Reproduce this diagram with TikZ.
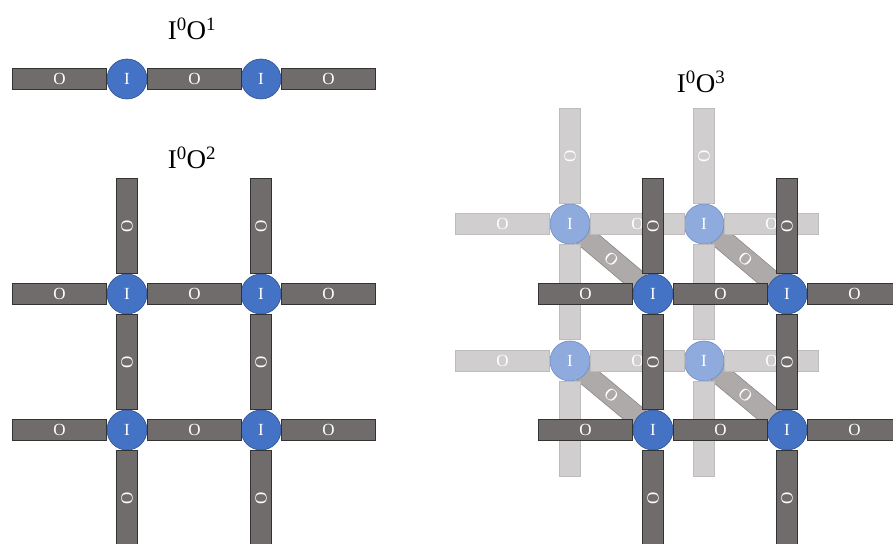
\documentclass[tikz,border=0pt]{standalone}
\usepackage{fontspec}
\setmainfont{Liberation Serif}
\usetikzlibrary{positioning, backgrounds}

\definecolor{rodgray}{HTML}{706C6B}
\definecolor{ionblue}{HTML}{4472C4}
\definecolor{ionedge}{HTML}{2F528F}
\definecolor{paleblue}{HTML}{8FAADC}
\definecolor{paleedge}{HTML}{6E8BC2}
\definecolor{palegray}{HTML}{D0CECE}
\definecolor{paleline}{HTML}{BDBBBB}
\definecolor{midgray}{HTML}{AEAAAA}
\definecolor{midline}{HTML}{8C8888}

\newcommand{\vO}{\rotatebox{90}{O}}

\begin{document}
\begin{tikzpicture}[
        x = 1pt, y = 1pt,
        node distance = 0pt and 0pt,
        kule/.style = {circle, draw=ionedge, fill=ionblue, line width=0.6pt, minimum size=40pt, inner sep=0pt, text=white},
        blekkule/.style = {kule, draw=paleedge, fill=paleblue},
        stav/.style = {rectangle, draw=black!80, fill=rodgray, line width=0.6pt, minimum width=94pt, minimum height=21pt, inner sep=0pt, text=white},
        vstav/.style = {stav, minimum width=21pt, minimum height=95pt},
        blek/.style = {draw=paleline, fill=palegray},
        skraa/.style = {stav, draw=midline, fill=midgray, minimum width=80pt, sloped},
        titel/.style = {font=\fontsize{27}{30}\selectfont},
        font = \fontsize{17}{17}\selectfont
        ]
        \useasboundingbox (0,0) rectangle (893,543);
        \clip (0,0) rectangle (893,543);

        % I0O1
        \node[titel] (t1) at (192,514) {I\textsuperscript{0}O\textsuperscript{1}};
        \node[kule] (a1) at (127,464) {I};
        \node[kule] (a2) at (261,464) {I};
        \node[stav, left=of a1] (a1w) {O};
        \node[stav, right=of a1] (a12) {O};
        \node[stav, right=of a2] (a2e) {O};

        % I0O2
        \node[titel] (t2) at (192,385) {I\textsuperscript{0}O\textsuperscript{2}};
        \node[kule] (b11) at (127,249) {I};
        \node[kule] (b12) at (261,249) {I};
        \node[kule] (b21) at (127,113) {I};
        \node[kule] (b22) at (261,113) {I};
        \node[stav, left=of b11] (b11w) {O};
        \node[stav, right=of b11] (b11e) {O};
        \node[stav, right=of b12] (b12e) {O};
        \node[stav, left=of b21] (b21w) {O};
        \node[stav, right=of b21] (b21e) {O};
        \node[stav, right=of b22] (b22e) {O};
        \node[vstav, above=of b11] (b11n) {\vO};
        \node[vstav, above=of b12] (b12n) {\vO};
        \node[vstav, below=of b11] (b11s) {\vO};
        \node[vstav, below=of b12] (b12s) {\vO};
        \node[vstav, below=of b21] (b21s) {\vO};
        \node[vstav, below=of b22] (b22s) {\vO};

        % I0O3, back layer
        \node[titel] (t3) at (701,461) {I\textsuperscript{0}O\textsuperscript{3}};
        \node[blekkule] (l11) at (570,319) {I};
        \node[blekkule] (l12) at (704,319) {I};
        \node[blekkule] (l21) at (570,182) {I};
        \node[blekkule] (l22) at (704,182) {I};
        \node[stav, blek, left=of l11] (l11w) {O};
        \node[stav, blek, right=of l11] (l11e) {O};
        \node[stav, blek, right=of l12] (l12e) {O};
        \node[stav, blek, left=of l21] (l21w) {O};
        \node[stav, blek, right=of l21] (l21e) {O};
        \node[stav, blek, right=of l22] (l22e) {O};
        \node[vstav, blek, above=of l11] (l11n) {\vO};
        \node[vstav, blek, above=of l12] (l12n) {\vO};
        \node[vstav, blek, below=of l11] (l11s) {\vO};
        \node[vstav, blek, below=of l12] (l12s) {\vO};
        \node[vstav, blek, below=of l21] (l21s) {\vO};
        \node[vstav, blek, below=of l22] (l22s) {\vO};

        % I0O3, front layer
        \node[kule] (c11) at (653,249) {I};
        \node[kule] (c12) at (787,249) {I};
        \node[kule] (c21) at (653,113) {I};
        \node[kule] (c22) at (787,113) {I};
        \node[stav, left=of c11] (c11w) {O};
        \node[stav, right=of c11] (c11e) {O};
        \node[stav, right=of c12] (c12e) {O};
        \node[stav, left=of c21] (c21w) {O};
        \node[stav, right=of c21] (c21e) {O};
        \node[stav, right=of c22] (c22e) {O};
        \node[vstav, above=of c11] (c11n) {\vO};
        \node[vstav, above=of c12] (c12n) {\vO};
        \node[vstav, below=of c11] (c11s) {\vO};
        \node[vstav, below=of c12] (c12s) {\vO};
        \node[vstav, below=of c21] (c21s) {\vO};
        \node[vstav, below=of c22] (c22s) {\vO};

        \begin{scope}[on background layer]
          \path (l11) -- node[skraa] (d11) {O} (c11)
                (l12) -- node[skraa] (d12) {O} (c12)
                (l21) -- node[skraa] (d21) {O} (c21)
                (l22) -- node[skraa] (d22) {O} (c22);
        \end{scope}

      \end{tikzpicture}
\end{document}
